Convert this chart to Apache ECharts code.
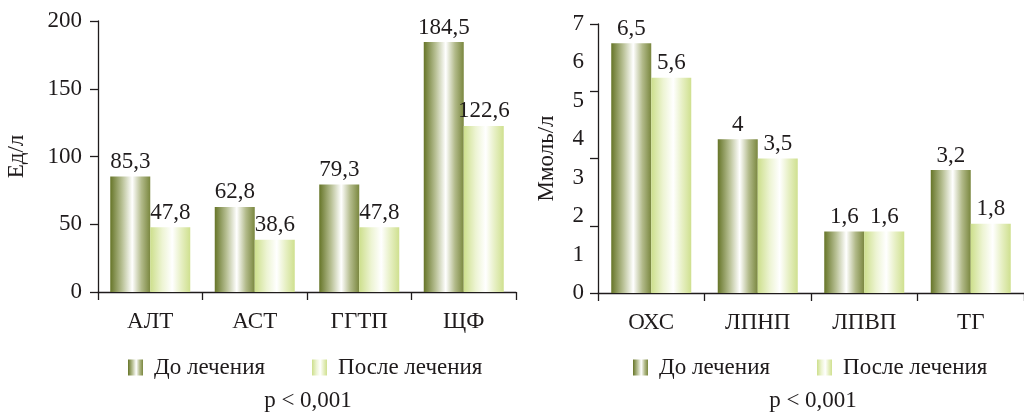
<!DOCTYPE html>
<html>
<head>
<meta charset="utf-8">
<script src="https://cdn.jsdelivr.net/npm/echarts@6/dist/echarts.min.js"></script>
<style>
  html, body { margin: 0; padding: 0; background: #ffffff; }
  #chart { width: 1024px; height: 412px; }
</style>
</head>
<body>
<div id="chart"></div>
<script>
// Liver enzymes (U/L) before and after treatment
const enzymeCategories = ['АЛТ', 'АСТ', 'ГГТП', 'ЩФ'];
const enzymeBefore = [85.3, 62.8, 79.3, 184.5];
const enzymeAfter = [47.8, 38.6, 47.8, 122.6];

// Lipid profile (mmol/L) before and after treatment
const lipidCategories = ['ОХС', 'ЛПНП', 'ЛПВП', 'ТГ'];
const lipidBefore = [6.5, 4, 1.6, 3.2];
const lipidAfter = [5.6, 3.5, 1.6, 1.8];

const seriesNames = ['До лечения', 'После лечения'];
const pValueText = 'p < 0,001';

const FONT = '"Liberation Serif", "DejaVu Serif", serif';
const INK = '#1f1b1c';
const FS = 23;

function grad(stops) {
  return new echarts.graphic.LinearGradient(0, 0, 1, 0,
    stops.map(s => ({ offset: s[0], color: s[1] })));
}
const darkFill = grad([[0, '#667528'], [0.3, '#b9c196'], [0.55, '#ffffff'], [0.78, '#b2ba8a'], [1, '#7a873f']]);
const lightFill = grad([[0, '#cddf8c'], [0.3, '#edf4d3'], [0.55, '#ffffff'], [0.78, '#e6efc2'], [1, '#cfe08f']]);

const fmt = p => String(p.value).replace('.', ',');

function barSeries(name, data, fill, idx) {
  return {
    name: name,
    type: 'bar',
    xAxisIndex: idx,
    yAxisIndex: idx === 0 ? 0 : 1,
    data: data,
    barWidth: 40,
    barGap: '0%',
    itemStyle: { color: fill },
    label: {
      show: true, position: 'top', distance: 3,
      formatter: fmt, color: INK, fontFamily: FONT, fontSize: FS
    }
  };
}

const axisLine = { show: true, lineStyle: { color: INK, width: 1.3 } };
const axisTick = { show: true, length: 8, lineStyle: { color: INK, width: 1.3 } };
const axisLabelStyle = { color: INK, fontFamily: FONT, fontSize: FS };

function legendAt(left) {
  return {
    data: seriesNames, left: left, top: 356, padding: 0,
    icon: 'rect', itemWidth: 15, itemHeight: 16, itemGap: 47,
    textStyle: { color: INK, fontFamily: FONT, fontSize: FS, padding: [0, 0, 0, 6] }
  };
}

function pTitleAt(left) {
  return {
    text: pValueText, left: left, top: 389, padding: 0, textAlign: 'center',
    textStyle: { color: INK, fontFamily: FONT, fontSize: FS, fontWeight: 'normal' }
  };
}

const option = {
  animation: false,
  backgroundColor: '#ffffff',
  textStyle: { fontFamily: FONT, color: INK },
  grid: [
    { left: 98, top: 21, width: 418, bottom: 120, containLabel: false },
    { left: 598, top: 24, width: 432, bottom: 119, containLabel: false }
  ],
  xAxis: [
    {
      type: 'category', gridIndex: 0, data: enzymeCategories,
      axisLine: axisLine, axisTick: axisTick,
      axisLabel: Object.assign({ margin: 18 }, axisLabelStyle)
    },
    {
      type: 'category', gridIndex: 1, data: lipidCategories,
      axisLine: axisLine, axisTick: axisTick,
      axisLabel: Object.assign({ margin: 18 }, axisLabelStyle)
    }
  ],
  yAxis: [
    {
      type: 'value', gridIndex: 0, min: 0, max: 200, interval: 50,
      name: 'Ед/л', nameLocation: 'middle', nameGap: 70, nameRotate: 90,
      nameTextStyle: { color: INK, fontFamily: FONT, fontSize: FS },
      axisLine: axisLine, axisTick: axisTick,
      axisLabel: Object.assign({ margin: 16 }, axisLabelStyle),
      splitLine: { show: false }
    },
    {
      // integer labels for the lipid scale
      type: 'value', gridIndex: 1, min: 0, max: 7, interval: 1,
      name: 'Ммоль/л', nameLocation: 'middle', nameGap: 40, nameRotate: 90,
      nameTextStyle: { color: INK, fontFamily: FONT, fontSize: FS },
      axisLine: { show: false }, axisTick: { show: false },
      axisLabel: Object.assign({ margin: 14 }, axisLabelStyle),
      splitLine: { show: false }
    },
    {
      // tick marks of the lipid scale, every 1.75 mmol/L
      type: 'value', gridIndex: 1, position: 'left', min: 0, max: 7, interval: 1.75,
      axisLine: axisLine, axisTick: axisTick,
      axisLabel: { show: false },
      splitLine: { show: false }
    }
  ],
  legend: [legendAt(128), legendAt(633)],
  title: [pTitleAt(308), pTitleAt(813)],
  series: [
    barSeries(seriesNames[0], enzymeBefore, darkFill, 0),
    barSeries(seriesNames[1], enzymeAfter, lightFill, 0),
    barSeries(seriesNames[0], lipidBefore, darkFill, 1),
    barSeries(seriesNames[1], lipidAfter, lightFill, 1)
  ]
};

const chart = echarts.init(document.getElementById('chart'), null, { renderer: 'canvas' });
chart.setOption(option);
</script>
</body>
</html>
